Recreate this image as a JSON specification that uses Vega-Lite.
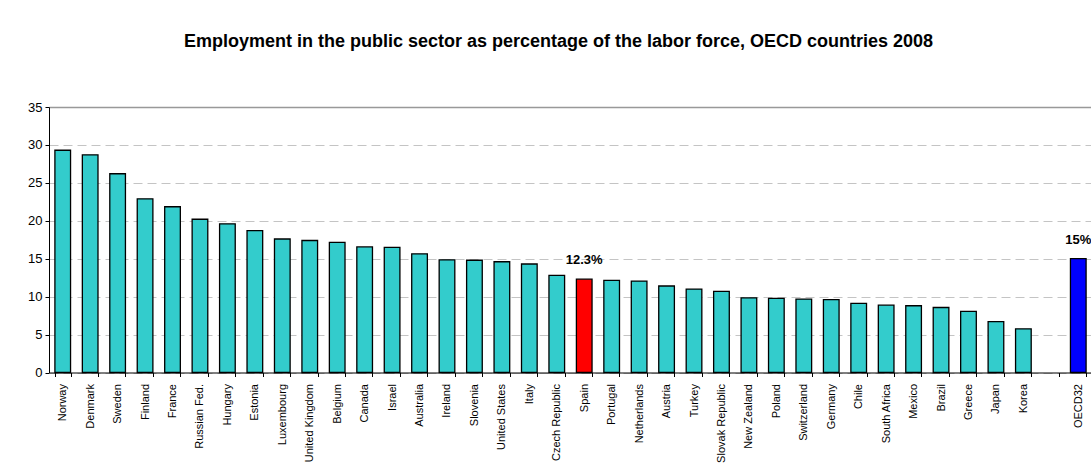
{
  "$schema": "https://vega.github.io/schema/vega-lite/v6.json",
  "width": 1043,
  "height": 265.5,
  "autosize": {"type": "none"},
  "padding": {"left": 49, "top": 107, "right": 0, "bottom": 100},
  "background": "white",
  "title": {
    "text": "Employment in the public sector as percentage of the labor force, OECD countries 2008",
    "font": "Liberation Sans",
    "fontSize": 18,
    "fontWeight": "bold",
    "color": "black",
    "anchor": "middle",
    "frame": "group",
    "offset": 50,
    "dx": -12
  },
  "config": {
    "view": {"stroke": null},
    "axis": {"labelFont": "Liberation Sans", "labelColor": "black", "domainColor": "black", "tickColor": "black", "tickSize": 4}
  },
  "data": {
    "values": [
      {"country": "Norway", "value": 29.3, "group": "other"},
      {"country": "Denmark", "value": 28.7, "group": "other"},
      {"country": "Sweden", "value": 26.2, "group": "other"},
      {"country": "Finland", "value": 22.9, "group": "other"},
      {"country": "France", "value": 21.85, "group": "other"},
      {"country": "Russian Fed.", "value": 20.2, "group": "other"},
      {"country": "Hungary", "value": 19.6, "group": "other"},
      {"country": "Estonia", "value": 18.7, "group": "other"},
      {"country": "Luxembourg", "value": 17.6, "group": "other"},
      {"country": "United Kingdom", "value": 17.4, "group": "other"},
      {"country": "Belgium", "value": 17.15, "group": "other"},
      {"country": "Canada", "value": 16.55, "group": "other"},
      {"country": "Israel", "value": 16.5, "group": "other"},
      {"country": "Australia", "value": 15.65, "group": "other"},
      {"country": "Ireland", "value": 14.85, "group": "other"},
      {"country": "Slovenia", "value": 14.8, "group": "other"},
      {"country": "United States", "value": 14.6, "group": "other"},
      {"country": "Italy", "value": 14.3, "group": "other"},
      {"country": "Czech Republic", "value": 12.8, "group": "other"},
      {"country": "Spain", "value": 12.3, "group": "Spain", "label": "12.3%"},
      {"country": "Portugal", "value": 12.15, "group": "other"},
      {"country": "Netherlands", "value": 12.05, "group": "other"},
      {"country": "Austria", "value": 11.4, "group": "other"},
      {"country": "Turkey", "value": 11.0, "group": "other"},
      {"country": "Slovak Republic", "value": 10.7, "group": "other"},
      {"country": "New Zealand", "value": 9.85, "group": "other"},
      {"country": "Poland", "value": 9.76, "group": "other"},
      {"country": "Switzerland", "value": 9.68, "group": "other"},
      {"country": "Germany", "value": 9.6, "group": "other"},
      {"country": "Chile", "value": 9.1, "group": "other"},
      {"country": "South Africa", "value": 8.88, "group": "other"},
      {"country": "Mexico", "value": 8.8, "group": "other"},
      {"country": "Brazil", "value": 8.57, "group": "other"},
      {"country": "Greece", "value": 8.05, "group": "other"},
      {"country": "Japan", "value": 6.7, "group": "other"},
      {"country": "Korea", "value": 5.76, "group": "other"},
      {"country": "OECD32", "value": 15.0, "group": "OECD32", "label": "15%"}
    ]
  },
  "encoding": {
    "x": {
      "field": "country",
      "type": "nominal",
      "sort": null,
      "scale": {
        "domain": ["Norway", "Denmark", "Sweden", "Finland", "France", "Russian Fed.", "Hungary", "Estonia", "Luxembourg", "United Kingdom", "Belgium", "Canada", "Israel", "Australia", "Ireland", "Slovenia", "United States", "Italy", "Czech Republic", "Spain", "Portugal", "Netherlands", "Austria", "Turkey", "Slovak Republic", "New Zealand", "Poland", "Switzerland", "Germany", "Chile", "South Africa", "Mexico", "Brazil", "Greece", "Japan", "Korea", " ", "OECD32"],
        "paddingInner": 0.43,
        "paddingOuter": 0.215
      },
      "axis": {
        "title": null,
        "labelAngle": -90,
        "labelFontSize": 11,
        "labelPadding": 7,
        "tickBand": "extent",
        "grid": false,
        "domainWidth": 1
      }
    },
    "y": {
      "field": "value",
      "type": "quantitative",
      "scale": {"domain": [0, 35], "nice": false},
      "axis": {
        "title": null,
        "values": [0, 5, 10, 15, 20, 25, 30, 35],
        "labelFontSize": 13,
        "labelPadding": 3,
        "grid": true,
        "gridColor": {"condition": {"test": "datum.value === 35", "value": "#999999"}, "value": "#c4c4c4"},
        "gridDash": {"condition": {"test": "datum.value === 35", "value": []}, "value": [9, 5]},
        "gridWidth": {"condition": {"test": "datum.value === 35", "value": 1.5}, "value": 1}
      }
    }
  },
  "layer": [
    {
      "mark": {"type": "bar", "stroke": "black", "strokeWidth": 1.3},
      "encoding": {
        "color": {
          "field": "group",
          "type": "nominal",
          "scale": {"domain": ["other", "Spain", "OECD32"], "range": ["#33CCCC", "#FF0000", "#0000FF"]},
          "legend": null
        }
      }
    },
    {
      "transform": [{"filter": "datum.label != null"}],
      "mark": {"type": "text", "baseline": "bottom", "dy": -12, "font": "Liberation Sans", "fontSize": 13, "fontWeight": "bold", "color": "black"},
      "encoding": {"text": {"field": "label"}}
    }
  ]
}
